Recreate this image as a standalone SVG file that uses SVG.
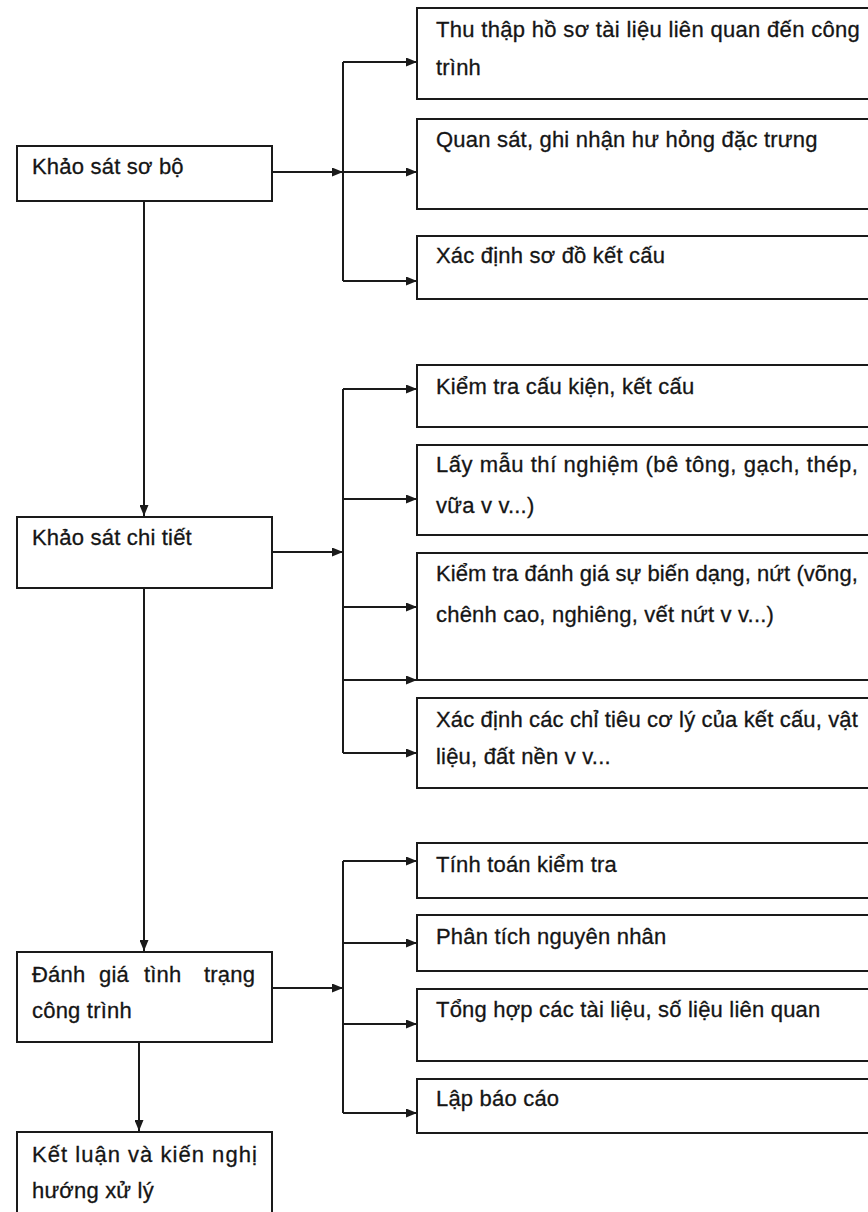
<svg xmlns="http://www.w3.org/2000/svg" width="868" height="1212" viewBox="0 0 868 1212">
<style>
.box{fill:#fff;stroke:#1a1a1a;stroke-width:2}
.t{font-family:"Liberation Sans",Arial,sans-serif;font-size:22px;fill:#151515;stroke:#151515;stroke-width:0.3px;letter-spacing:0.2px}
.c{fill:none;stroke:#1a1a1a;stroke-width:2}
</style>
<defs>
<marker id="ah" viewBox="0 0 11 9" refX="11" refY="4.5" markerWidth="11" markerHeight="9" markerUnits="userSpaceOnUse" orient="auto">
<path d="M0,0 L11,4.5 L0,9 Z" fill="#1a1a1a"/>
</marker>
</defs>
<rect width="868" height="1212" fill="#fff"/>

<g id="connectors">
<path class="c" d="M144,201 V516" marker-end="url(#ah)"/>
<path class="c" d="M144,588 V951" marker-end="url(#ah)"/>
<path class="c" d="M139,1042 V1131" marker-end="url(#ah)"/>
<path class="c" d="M272,172 H343" marker-end="url(#ah)"/>
<path class="c" d="M272,552 H343" marker-end="url(#ah)"/>
<path class="c" d="M272,988 H343" marker-end="url(#ah)"/>
<path class="c" d="M343,62 V281"/>
<path class="c" d="M343,62 H417" marker-end="url(#ah)"/>
<path class="c" d="M343,172 H417" marker-end="url(#ah)"/>
<path class="c" d="M343,281 H417" marker-end="url(#ah)"/>
<path class="c" d="M343,389 V753"/>
<path class="c" d="M343,389 H417" marker-end="url(#ah)"/>
<path class="c" d="M343,499 H417" marker-end="url(#ah)"/>
<path class="c" d="M343,607 H417" marker-end="url(#ah)"/>
<path class="c" d="M343,680 H417" marker-end="url(#ah)"/>
<path class="c" d="M343,753 H417" marker-end="url(#ah)"/>
<path class="c" d="M343,861 V1113"/>
<path class="c" d="M343,861 H417" marker-end="url(#ah)"/>
<path class="c" d="M343,943 H417" marker-end="url(#ah)"/>
<path class="c" d="M343,1024 H417" marker-end="url(#ah)"/>
<path class="c" d="M343,1113 H417" marker-end="url(#ah)"/>
</g>

<g id="n-khao-sat-so-bo">
<rect class="box" x="17" y="146" width="255" height="55"/>
<text class="t" x="32" y="174">Khảo sát sơ bộ</text>
</g>
<g id="n-khao-sat-chi-tiet">
<rect class="box" x="17" y="517" width="255" height="71"/>
<text class="t" x="32" y="545">Khảo sát chi tiết</text>
</g>
<g id="n-danh-gia">
<rect class="box" x="17" y="952" width="255" height="90"/>
<text class="t" y="982"><tspan x="32">Đánh</tspan><tspan x="99">giá</tspan><tspan x="144">tình</tspan><tspan x="204">trạng</tspan></text>
<text class="t" x="32" y="1018">công trình</text>
</g>
<g id="n-ket-luan">
<rect class="box" x="17" y="1132" width="255" height="90"/>
<text class="t" x="32" y="1162" textLength="225" lengthAdjust="spacing">Kết luận và kiến nghị</text>
<text class="t" x="32" y="1198">hướng xử lý</text>
</g>

<g id="n-thu-thap">
<rect class="box" x="417" y="8" width="462" height="91"/>
<text class="t" x="436" y="37" textLength="424" lengthAdjust="spacing">Thu thập hồ sơ tài liệu liên quan đến công</text>
<text class="t" x="436" y="75">trình</text>
</g>
<g id="n-quan-sat">
<rect class="box" x="417" y="119" width="462" height="90"/>
<text class="t" x="436" y="147">Quan sát, ghi nhận hư hỏng đặc trưng</text>
</g>
<g id="n-so-do">
<rect class="box" x="417" y="236" width="462" height="63"/>
<text class="t" x="436" y="263">Xác định sơ đồ kết cấu</text>
</g>

<g id="n-kiem-tra-cau-kien">
<rect class="box" x="417" y="365" width="462" height="62"/>
<text class="t" x="436" y="394">Kiểm tra cấu kiện, kết cấu</text>
</g>
<g id="n-lay-mau">
<rect class="box" x="417" y="445" width="462" height="90"/>
<text class="t" x="436" y="472" textLength="422" lengthAdjust="spacing">Lấy mẫu thí nghiệm (bê tông, gạch, thép,</text>
<text class="t" x="436" y="513">vữa v v...)</text>
</g>
<g id="n-bien-dang">
<rect class="box" x="417" y="553" width="462" height="127"/>
<text class="t" x="436" y="581" textLength="422" lengthAdjust="spacing">Kiểm tra đánh giá sự biến dạng, nứt (võng,</text>
<text class="t" x="436" y="622">chênh cao, nghiêng, vết nứt v v...)</text>
</g>
<g id="n-chi-tieu">
<rect class="box" x="417" y="698" width="462" height="90"/>
<text class="t" x="436" y="727" textLength="422" lengthAdjust="spacing">Xác định các chỉ tiêu cơ lý của kết cấu, vật</text>
<text class="t" x="436" y="764">liệu, đất nền v v...</text>
</g>

<g id="n-tinh-toan">
<rect class="box" x="417" y="843" width="462" height="55"/>
<text class="t" x="436" y="872">Tính toán kiểm tra</text>
</g>
<g id="n-phan-tich">
<rect class="box" x="417" y="915" width="462" height="56"/>
<text class="t" x="436" y="944">Phân tích nguyên nhân</text>
</g>
<g id="n-tong-hop">
<rect class="box" x="417" y="989" width="462" height="72"/>
<text class="t" x="436" y="1017">Tổng hợp các tài liệu, số liệu liên quan</text>
</g>
<g id="n-lap-bao-cao">
<rect class="box" x="417" y="1079" width="462" height="54"/>
<text class="t" x="436" y="1106">Lập báo cáo</text>
</g>
</svg>
